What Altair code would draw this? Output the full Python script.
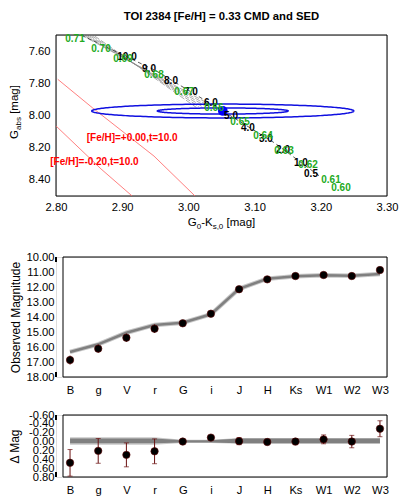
import altair as alt
import pandas as pd
import numpy as np

FONT = "Liberation Sans"
TITLE = "TOI 2384 [Fe/H] = 0.33 CMD and SED"

# ---------------- CMD panel data ----------------
star_col = [3.052]
star_gabs = [7.972]
ell_a = [0.198, 0.099]      # ellipse semi-axes in colour
ell_b = [0.043, 0.019]      # ellipse semi-axes in G_abs

iso_p00_col = [2.8026, 2.855, 2.948, 3.010]
iso_p00_gabs = [7.775, 7.952, 8.252, 8.50]
iso_m20_col = [2.800, 2.868, 2.915]
iso_m20_gabs = [8.065, 8.332, 8.50]

track_col = [2.838, 2.950, 3.052, 3.130, 3.200]
track_gabs = [7.500, 7.720, 7.972, 8.170, 8.382]

hatch_col0 = [2.838, 2.842, 2.846, 2.850, 2.854, 2.858]
hatch_col1 = [3.032, 3.028, 3.024, 3.020, 3.016, 3.012]
hatch_gabs0 = [7.500, 7.501, 7.502, 7.503, 7.504, 7.505]
hatch_gabs1 = [7.930, 7.934, 7.938, 7.942, 7.946, 7.950]

age_text = ["10.0", "9.0", "8.0", "7.0", "6.0", "5.0", "4.0", "3.0", "2.0", "1.0", "0.5"]
age_col = [2.9073, 2.9405, 2.9737, 3.0039, 3.0341, 3.0644, 3.090, 3.1172, 3.1429, 3.170, 3.1852]
age_gabs = [7.6366, 7.7112, 7.7857, 7.854, 7.9224, 8.0031, 8.0776, 8.146, 8.2143, 8.295, 8.3634]

mass_text = ["0.71", "0.70", "0.69", "0.68", "0.67", "0.66", "0.65", "0.64", "0.63", "0.62", "0.61", "0.60"]
mass_col = [2.8287, 2.868, 2.9012, 2.948, 2.9934, 3.0387, 3.078, 3.1127, 3.1444, 3.1807, 3.2154, 3.2305]
mass_gabs = [7.5248, 7.587, 7.649, 7.748, 7.854, 7.953, 8.040, 8.127, 8.2205, 8.3075, 8.4006, 8.4503]

feh_text = ["[Fe/H]=+0.00,t=10.0", "[Fe/H]=-0.20,t=10.0"]
feh_col = [2.915, 2.858]
feh_gabs = [8.14, 8.289]

cmd_xticks = [2.80, 2.90, 3.00, 3.10, 3.20, 3.30]
cmd_yticks = [7.60, 7.80, 8.00, 8.20, 8.40]

# ---------------- SED data ----------------
bands = ["B", "g", "V", "r", "G", "i", "J", "H", "Ks", "W1", "W2", "W3"]
obs_mag = [16.87, 16.11, 15.38, 14.78, 14.42, 13.78, 12.15, 11.49, 11.27, 11.20, 11.27, 10.87]
obs_err = [0.30, 0.28, 0.27, 0.28, 0.02, 0.03, 0.08, 0.04, 0.07, 0.10, 0.14, 0.18]
model_mag = [16.33, 15.82, 15.05, 14.53, 14.38, 13.82, 12.12, 11.45, 11.29, 11.22, 11.25, 11.13]
resid = [0.48, 0.21, 0.30, 0.22, 0.00, -0.09, -0.01, 0.01, 0.00, -0.05, 0.00, -0.29]
band_lo = [-0.10, -0.10, -0.10, -0.10, -0.04, -0.04, -0.08, -0.08, -0.08, -0.08, -0.08, -0.08]
band_hi = [0.07, 0.07, 0.07, 0.07, 0.03, 0.03, 0.05, 0.05, 0.05, 0.05, 0.05, 0.05]
dband_lo = [-0.07, -0.07, -0.07, -0.07, -0.03, -0.03, -0.07, -0.07, -0.07, -0.07, -0.07, -0.07]
dband_hi = [0.04, 0.04, 0.04, 0.04, 0.02, 0.02, 0.04, 0.04, 0.04, 0.04, 0.04, 0.04]

sed_yticks = [10, 11, 12, 13, 14, 15, 16, 17, 18]
res_yticks = [-0.6, -0.4, -0.2, 0.0, 0.2, 0.4, 0.6, 0.8]

# ---------------- helpers ----------------
one = pd.DataFrame({"a": [0]})
LFS = 11.2
HYPHEN = "replace(format(datum.value, '.2f'), '\u2212', '-')"


def frame(x0, x1, h):
    return alt.Chart(one).mark_rect(fillOpacity=0, stroke="black", strokeWidth=1).encode(
        x=alt.value(x0), x2=alt.value(x1), y=alt.value(0), y2=alt.value(h))


def xtick_layers(vals, X, h, length):
    d = pd.DataFrame({X.shorthand: vals})
    base = alt.Chart(d).mark_rule(color="black", strokeWidth=1)
    return [base.encode(x=X, y=alt.value(h), y2=alt.value(h - length)),
            base.encode(x=X, y=alt.value(0), y2=alt.value(length))]


def ytick_layers(vals, Y, x0, x1, length):
    d = pd.DataFrame({Y.shorthand: vals})
    base = alt.Chart(d).mark_rule(color="black", strokeWidth=1)
    return [base.encode(y=Y, x=alt.value(x0), x2=alt.value(x0 + length)),
            base.encode(y=Y, x=alt.value(x1), x2=alt.value(x1 - length))]


def piece_text(pieces, x0, y0, angle=0):
    """pieces: list of (text, fontsize, baseline shift, advance)."""
    layers = []
    pos = 0.0
    for txt, fs, shift, w in pieces:
        if angle == 0:
            x, y = x0 + pos, y0 + shift
        else:
            x, y = x0 + shift, y0 - pos
        if txt:
            layers.append(alt.Chart(one).mark_text(
                text=txt, font=FONT, fontSize=fs, align="left", baseline="alphabetic",
                angle=angle, color="black").encode(x=alt.value(x), y=alt.value(y)))
        pos += w
    return layers


# ---------------- CMD panel ----------------
W1, H1 = 331, 161
xs = alt.Scale(domain=[2.8, 3.3], nice=False, zero=False)
ys = alt.Scale(domain=[7.5, 8.5], reverse=True, nice=False, zero=False)
ax_x = alt.Axis(values=cmd_xticks, format=".2f", title=None, domain=False, ticks=False, grid=False,
                labelPadding=5, labelFontSize=LFS, labelFont=FONT, labelColor="black", labelFlush=False)
ax_y = alt.Axis(values=cmd_yticks, format=".2f", title=None, domain=False, ticks=False, grid=False,
                labelPadding=6, labelFontSize=LFS, labelFont=FONT, labelColor="black", labelFlush=False)
X = alt.X("col:Q", scale=xs, axis=ax_x)
Y = alt.Y("gabs:Q", scale=ys, axis=ax_y)

iso_df = pd.DataFrame({
    "col": iso_p00_col + iso_m20_col,
    "gabs": iso_p00_gabs + iso_m20_gabs,
    "name": ["p00"] * len(iso_p00_col) + ["m20"] * len(iso_m20_col),
    "o": list(range(len(iso_p00_col))) + list(range(len(iso_m20_col))),
})
hatch_rows = []
for k in range(len(hatch_col0)):
    hatch_rows.append(dict(k=k, o=0, col=hatch_col0[k], gabs=hatch_gabs0[k]))
    hatch_rows.append(dict(k=k, o=1, col=hatch_col1[k], gabs=hatch_gabs1[k]))
hatch_df = pd.DataFrame(hatch_rows)
track_df = pd.DataFrame({"col": track_col, "gabs": track_gabs, "o": range(len(track_col))})

tt = np.linspace(0, 2 * np.pi, 241)
ell_rows = []
for k, (a, b) in enumerate(zip(ell_a, ell_b)):
    for j, t in enumerate(tt):
        ell_rows.append(dict(e=k, o=j, col=star_col[0] + a * np.cos(t), gabs=star_gabs[0] + b * np.sin(t)))
ell_df = pd.DataFrame(ell_rows)
star_df = pd.DataFrame({"col": star_col, "gabs": star_gabs})
age_df = pd.DataFrame({"col": age_col, "gabs": age_gabs, "t": age_text})
mass_df = pd.DataFrame({"col": mass_col, "gabs": mass_gabs, "t": mass_text})
feh_df = pd.DataFrame({"col": feh_col, "gabs": feh_gabs, "t": feh_text})

cmd_layers = [
    frame(0, W1, H1),
    alt.Chart(iso_df).mark_line(color="#ff6060", strokeWidth=0.8, clip=True).encode(
        x=X, y=Y, detail="name:N", order="o:Q"),
    alt.Chart(hatch_df).mark_line(color="#8a8a8a", strokeWidth=0.7, strokeDash=[6, 2], clip=True).encode(
        x=X, y=Y, detail="k:N", order="o:Q"),
    alt.Chart(track_df).mark_line(color="#303030", strokeWidth=0.8, strokeDash=[4, 3], clip=True).encode(
        x=X, y=Y, order="o:Q"),
    alt.Chart(ell_df).mark_line(color="#1010e0", strokeWidth=1.5, clip=True).encode(
        x=X, y=Y, detail="e:N", order="o:Q"),
    alt.Chart(star_df).mark_point(filled=True, color="#0000ff", size=95, opacity=1).encode(x=X, y=Y),
    alt.Chart(age_df).mark_text(font=FONT, fontSize=10, fontWeight="bold", color="black").encode(
        x=X, y=Y, text="t:N"),
    alt.Chart(mass_df).mark_text(font=FONT, fontSize=10, fontWeight="bold", color="#22aa22").encode(
        x=X, y=Y, text="t:N"),
    alt.Chart(feh_df).mark_text(font=FONT, fontSize=10, fontWeight="bold", color="#ff0000").encode(
        x=X, y=Y, text="t:N"),
]
cmd_layers += xtick_layers(cmd_xticks, X, H1, 5)
cmd_layers += xtick_layers([round(2.8 + 0.02 * i, 2) for i in range(26)], X, H1, 3)
cmd_layers += ytick_layers(cmd_yticks, Y, 0, W1, 5)
cmd_layers += ytick_layers([round(7.5 + 0.1 * i, 2) for i in range(11)], Y, 0, W1, 3)
cmd_layers.append(alt.Chart(one).mark_text(
    text=TITLE, font=FONT, fontSize=11.3, fontWeight="bold", align="center", baseline="middle",
    color="black").encode(x=alt.value(W1 / 2), y=alt.value(-18)))
# x title  G0-Ks,0 [mag]
fs, sfs = 11.5, 8
xt = [("G", fs, 0, 0.778 * fs), ("0", sfs, 3, 0.556 * sfs), ("-K", fs, 0, 1.0 * fs),
      ("s,0", sfs, 3, 1.334 * sfs), ("", fs, 0, 0.278 * fs), ("[mag]", fs, 0, 2.5 * fs)]
tot = sum(p[3] for p in xt)
cmd_layers += piece_text(xt, W1 / 2 - tot / 2, 191)
yt = [("G", fs, 0, 0.778 * fs), ("abs", sfs, 3, 1.612 * sfs), ("", fs, 0, 0.278 * fs),
      ("[mag]", fs, 0, 2.5 * fs)]
tot = sum(p[3] for p in yt)
cmd_layers += piece_text(yt, -38, 77 + tot / 2, angle=270)

cmd = alt.layer(*cmd_layers).properties(width=W1, height=H1)

# ---------------- SED panel ----------------
XL, XR = 7, 331
H2 = 120
xb = alt.Scale(type="point", domain=bands, range=[XL, XR], padding=0.25)
ym = alt.Scale(domain=[10, 18], reverse=True, nice=False, zero=False)
ax_b = alt.Axis(title=None, domain=False, ticks=False, grid=False, labelAngle=0, labelPadding=7,
                labelFontSize=LFS, labelFont=FONT, labelColor="black")
XB = alt.X("band:N", scale=xb, sort=bands, axis=ax_b)
ax_m = alt.Axis(values=sed_yticks, format=".2f", title="Observed Magnitude", domain=False, ticks=False,
                grid=False, labelPadding=2, labelFontSize=LFS, labelFont=FONT, labelColor="black",
                titleFont=FONT, titleFontSize=12, titleFontWeight="normal", titleColor="black",
                titlePadding=4, labelFlush=False)


def YM(f):
    return alt.Y(f + ":Q", scale=ym, axis=ax_m)


sed_df = pd.DataFrame({"band": bands, "obs": obs_mag, "err": obs_err, "model": model_mag})
sed_df["lo"] = sed_df["obs"] - sed_df["err"]
sed_df["hi"] = sed_df["obs"] + sed_df["err"]

sed_layers = [
    frame(XL, XR, H2),
    alt.Chart(sed_df).mark_line(color="#c8c8c8", strokeWidth=4.5).encode(x=XB, y=YM("model")),
    alt.Chart(sed_df).mark_line(color="#808080", strokeWidth=2.5).encode(x=XB, y=YM("model")),
    alt.Chart(sed_df).mark_rule(color="#6b1010", strokeWidth=1).encode(x=XB, y=YM("lo"), y2="hi:Q"),
    alt.Chart(sed_df).mark_point(filled=True, color="black", size=55, opacity=1,
                                 stroke="#5a0000", strokeWidth=0.6).encode(x=XB, y=YM("obs")),
]
sed_layers += xtick_layers(bands, XB, H2, 5)
sed_layers += ytick_layers(sed_yticks, YM("v"), XL, XR, 5)
sed_layers += ytick_layers([round(10 + 0.2 * i, 1) for i in range(41)], YM("v"), XL, XR, 2.5)
sed = alt.layer(*sed_layers).properties(width=XR, height=H2)

# ---------------- residual panel ----------------
H3 = 62
yr = alt.Scale(domain=[-0.6, 0.8], reverse=True, nice=False, zero=False)
ax_r = alt.Axis(values=res_yticks, labelExpr=HYPHEN, title="Δ Mag", domain=False, ticks=False,
                grid=False, labelPadding=2, labelFontSize=LFS, labelFont=FONT, labelColor="black",
                labelOverlap=False, titleFont=FONT, titleFontSize=12, titleFontWeight="normal",
                titleColor="black", titlePadding=7, labelFlush=False)


def YR(f):
    return alt.Y(f + ":Q", scale=yr, axis=ax_r)


res_df = pd.DataFrame({"band": bands, "res": resid, "err": obs_err,
                       "blo": band_lo, "bhi": band_hi, "dlo": dband_lo, "dhi": dband_hi})
res_df["lo"] = res_df["res"] - res_df["err"]
res_df["hi"] = res_df["res"] + res_df["err"]

res_layers = [
    frame(XL, XR, H3),
    alt.Chart(res_df).mark_area(color="#c8c8c8", opacity=1).encode(x=XB, y=YR("blo"), y2="bhi:Q"),
    alt.Chart(res_df).mark_area(color="#808080", opacity=1).encode(x=XB, y=YR("dlo"), y2="dhi:Q"),
    alt.Chart(res_df).mark_rule(color="#6b1010", strokeWidth=1).encode(x=XB, y=YR("lo"), y2="hi:Q"),
    alt.Chart(res_df).mark_tick(color="#6b1010", orient="horizontal", size=5, thickness=1).encode(
        x=XB, y=YR("lo")),
    alt.Chart(res_df).mark_tick(color="#6b1010", orient="horizontal", size=5, thickness=1).encode(
        x=XB, y=YR("hi")),
    alt.Chart(res_df).mark_point(filled=True, color="black", size=55, opacity=1,
                                 stroke="#5a0000", strokeWidth=0.6).encode(x=XB, y=YR("res")),
]
res_layers += xtick_layers(bands, XB, H3, 5)
res_layers += ytick_layers(res_yticks, YR("v"), XL, XR, 5)
res_layers += ytick_layers([round(-0.6 + 0.1 * i, 1) for i in range(15)], YR("v"), XL, XR, 2.5)
res = alt.layer(*res_layers).properties(width=XR, height=H3)

lower = alt.vconcat(sed, res, spacing=38, bounds="flush")
chart = alt.vconcat(cmd, lower, spacing=61, bounds="flush").properties(
    padding={"left": 0, "top": 2, "right": 0, "bottom": 0}
).configure_view(stroke=None).configure(background="white")

chart.save("out.html", embed_options={"renderer": "svg", "actions": False})
